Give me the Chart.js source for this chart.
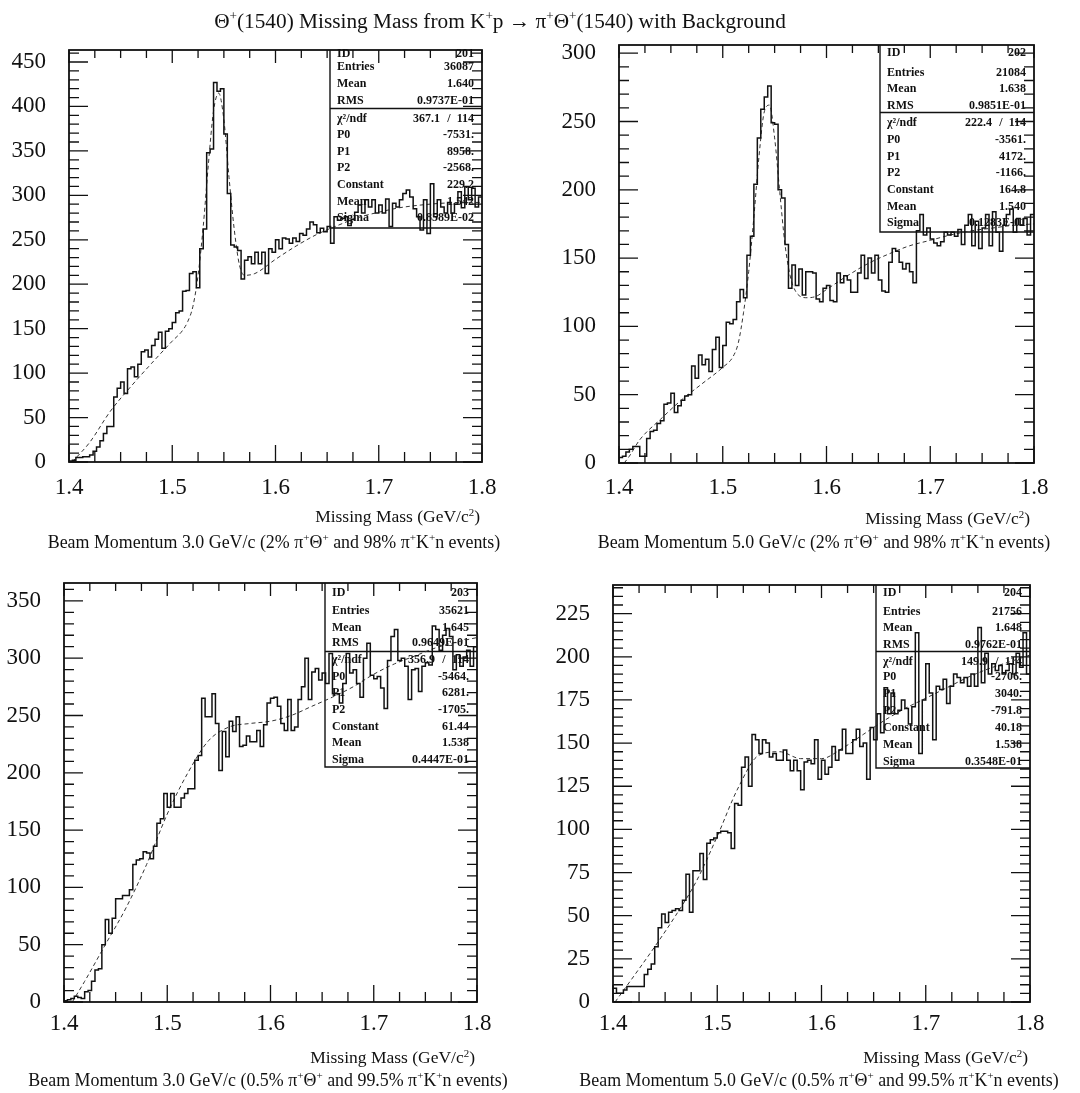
<!DOCTYPE html>
<html>
<head>
<meta charset="utf-8">
<title>Theta+(1540) missing mass</title>
<script src="https://cdn.jsdelivr.net/npm/chart.js@4.4.1/dist/chart.umd.min.js"></script>
<style>
  html, body { margin: 0; padding: 0; background: #fff; }
  body { position: relative; width: 1080px; height: 1093px; overflow: hidden;
         font-family: "Liberation Serif", "DejaVu Serif", serif; color: #111; }
  canvas { position: absolute; }
  .lbl { position: absolute; white-space: nowrap; z-index: 5; }
  .title { font-size: 21.3px; line-height: 25px; }
  .axis { font-size: 17.5px; line-height: 21px; }
  .caption { font-size: 17.9px; line-height: 21px; }
  .sup { font-size: 0.62em; position: relative; top: -0.6em; }
</style>
</head>
<body>

<div class="lbl title" style="left:200px;width:600px;top:9px;text-align:center">Θ<span class="sup">+</span>(1540) Missing Mass from K<span class="sup">+</span>p → π<span class="sup">+</span>Θ<span class="sup">+</span>(1540) with Background</div>

<div class="lbl axis" style="right:600px;top:506px;text-align:right">Missing Mass (GeV/c<span class="sup">2</span>)</div>
<div class="lbl caption" style="left:-26px;width:600px;top:532px;text-align:center">Beam Momentum 3.0 GeV/c (2% π<span class="sup">+</span>Θ<span class="sup">+</span> and 98% π<span class="sup">+</span>K<span class="sup">+</span>n events)</div>

<div class="lbl axis" style="right:50px;top:508px;text-align:right">Missing Mass (GeV/c<span class="sup">2</span>)</div>
<div class="lbl caption" style="left:524px;width:600px;top:532px;text-align:center">Beam Momentum 5.0 GeV/c (2% π<span class="sup">+</span>Θ<span class="sup">+</span> and 98% π<span class="sup">+</span>K<span class="sup">+</span>n events)</div>

<div class="lbl axis" style="right:605px;top:1047px;text-align:right">Missing Mass (GeV/c<span class="sup">2</span>)</div>
<div class="lbl caption" style="left:-32px;width:600px;top:1070px;text-align:center">Beam Momentum 3.0 GeV/c (0.5% π<span class="sup">+</span>Θ<span class="sup">+</span> and 99.5% π<span class="sup">+</span>K<span class="sup">+</span>n events)</div>

<div class="lbl axis" style="right:52px;top:1047px;text-align:right">Missing Mass (GeV/c<span class="sup">2</span>)</div>
<div class="lbl caption" style="left:519px;width:600px;top:1070px;text-align:center">Beam Momentum 5.0 GeV/c (0.5% π<span class="sup">+</span>Θ<span class="sup">+</span> and 99.5% π<span class="sup">+</span>K<span class="sup">+</span>n events)</div>

<script>
// histogram binning: 120 bins over 1.4 - 1.8 GeV/c^2
const MASS_LO = 1.4;
const MASS_HI = 1.8;
const N_BINS = 120;

// ---- ID 201 : 3.0 GeV/c, 2% signal ----
const counts201 = [
  1, 2, 5, 5, 6, 6, 8, 12, 17, 24,
  32, 40, 40, 73, 83, 90, 77, 105, 107, 96,
  110, 124, 126, 118, 131, 138, 146, 128, 147, 150,
  157, 168, 170, 192, 193, 212, 214, 196, 240, 262,
  348, 352, 427, 417, 420, 369, 302, 244, 242, 238,
  206, 227, 231, 223, 236, 223, 236, 212, 240, 236,
  250, 240, 252, 251, 246, 252, 248, 257, 255, 262,
  270, 267, 258, 263, 259, 265, 246, 276, 272, 274,
  276, 266, 273, 281, 289, 280, 295, 287, 295, 280,
  289, 280, 296, 265, 291, 287, 295, 302, 306, 298,
  285, 276, 261, 295, 257, 313, 276, 295, 287, 280,
  292, 280, 290, 304, 286, 310, 295, 308, 287, 298
];
const fit201X = [1.403, 1.42, 1.44, 1.46, 1.48, 1.50, 1.51, 1.515, 1.52, 1.525, 1.53, 1.535, 1.54, 1.545,
                 1.55, 1.555, 1.56, 1.565, 1.57, 1.58, 1.60, 1.62, 1.64, 1.66, 1.68, 1.70, 1.72, 1.74, 1.76, 1.78, 1.80];
const fit201Y = [0, 22, 57, 85, 111, 136, 148, 158, 175, 210, 265, 335, 395, 415,
                 385, 320, 262, 222, 210, 212, 228, 243, 256, 266, 275, 281, 286, 289, 291, 292, 292];
const stats201 = ['201', '36087', '1.640', '0.9737E-01', '', '-7531.', '8958.', '-2568.', '229.2', '1.542', '0.8589E-02'];
const chi201 = ['367.1', '114'];

// ---- ID 202 : 5.0 GeV/c, 2% signal ----
const counts202 = [
  4, 5, 8, 10, 12, 12, 5, 5, 18, 23,
  24, 29, 31, 43, 44, 51, 37, 42, 46, 49,
  50, 71, 62, 79, 72, 76, 67, 83, 92, 70,
  86, 103, 102, 105, 118, 127, 121, 152, 166, 204,
  238, 259, 268, 276, 249, 248, 200, 194, 160, 128,
  145, 130, 142, 123, 140, 140, 139, 120, 118, 128,
  130, 119, 118, 139, 132, 137, 134, 125, 125, 139,
  152, 135, 150, 139, 152, 134, 126, 125, 147, 157,
  155, 147, 142, 146, 140, 132, 170, 182, 167, 172,
  164, 161, 159, 162, 169, 167, 169, 166, 171, 160,
  174, 182, 159, 177, 157, 172, 182, 159, 184, 169,
  155, 174, 182, 186, 169, 179, 174, 179, 167, 182
];
const fit202X = [1.405, 1.41, 1.42, 1.44, 1.46, 1.48, 1.50, 1.51, 1.515, 1.52, 1.525, 1.53, 1.535, 1.54, 1.545,
                 1.55, 1.555, 1.56, 1.565, 1.57, 1.58, 1.59, 1.60, 1.62, 1.64, 1.66, 1.68, 1.70, 1.72, 1.74, 1.76, 1.78, 1.80];
const fit202Y = [0, 5, 17, 32, 46, 58, 70, 78, 88, 110, 140, 180, 225, 257, 262,
                 238, 198, 160, 137, 126, 121, 122, 127, 137, 146, 153, 159, 163, 167, 170, 172, 174, 175];
const stats202 = ['202', '21084', '1.638', '0.9851E-01', '', '-3561.', '4172.', '-1166.', '164.8', '1.540', '0.1283E-01'];
const chi202 = ['222.4', '114'];

// ---- ID 203 : 3.0 GeV/c, 0.5% signal ----
const counts203 = [
  1, 2, 3, 5, 4, 3, 9, 10, 18, 28,
  29, 50, 72, 60, 73, 90, 90, 93, 93, 98,
  120, 124, 125, 131, 130, 125, 136, 156, 160, 182,
  170, 182, 170, 170, 178, 182, 186, 186, 211, 215,
  265, 249, 249, 269, 243, 202, 236, 214, 245, 236,
  249, 223, 224, 232, 227, 227, 237, 223, 242, 261,
  265, 266, 258, 243, 237, 264, 237, 240, 264, 275,
  300, 264, 288, 291, 281, 287, 278, 304, 269, 269,
  261, 278, 304, 287, 290, 278, 266, 300, 313, 285,
  282, 284, 274, 256, 298, 319, 325, 298, 300, 293,
  264, 290, 291, 271, 293, 296, 294, 328, 325, 307,
  320, 326, 319, 290, 303, 293, 301, 307, 293, 310
];
const fit203X = [1.408, 1.42, 1.44, 1.46, 1.48, 1.50, 1.52, 1.54, 1.56, 1.58, 1.60,
                 1.62, 1.64, 1.66, 1.68, 1.70, 1.72, 1.74, 1.76, 1.78, 1.80];
const fit203Y = [0, 18, 50, 82, 120, 164, 200, 228, 240, 243, 245,
                 250, 258, 266, 275, 286, 295, 302, 309, 314, 318];
const stats203 = ['203', '35621', '1.645', '0.9649E-01', '', '-5464.', '6281.', '-1705.', '61.44', '1.538', '0.4447E-01'];
const chi203 = ['356.9', '114'];

// ---- ID 204 : 5.0 GeV/c, 0.5% signal ----
const counts204 = [
  8, 5, 5, 7, 9, 9, 9, 9, 9, 16,
  19, 22, 32, 43, 51, 46, 52, 53, 54, 53,
  59, 74, 52, 76, 76, 86, 71, 92, 94, 95,
  98, 99, 99, 98, 89, 115, 114, 136, 142, 125,
  155, 152, 144, 152, 150, 142, 144, 140, 140, 146,
  140, 134, 140, 134, 123, 139, 140, 138, 152, 129,
  140, 132, 136, 148, 140, 146, 158, 144, 144, 152,
  158, 148, 150, 129, 159, 152, 167, 156, 182, 167,
  179, 167, 169, 175, 170, 161, 171, 214, 144, 175,
  196, 179, 152, 183, 181, 187, 173, 183, 190, 188,
  185, 188, 183, 190, 183, 217, 185, 202, 190, 196,
  192, 195, 190, 192, 196, 190, 202, 194, 214, 190
];
const fit204X = [1.402, 1.42, 1.44, 1.46, 1.48, 1.50, 1.52, 1.54, 1.56, 1.58, 1.60,
                 1.62, 1.64, 1.66, 1.68, 1.70, 1.72, 1.74, 1.76, 1.78, 1.80];
const fit204Y = [0, 15, 32, 50, 70, 96, 124, 143, 145, 141, 141,
                 147, 155, 163, 170, 176, 182, 188, 193, 197, 201];
const stats204 = ['204', '21756', '1.648', '0.9762E-01', '', '-2706.', '3040.', '-791.8', '40.18', '1.538', '0.3548E-01'];
const chi204 = ['149.9', '114'];

const statLabels = ['ID', 'Entries', 'Mean', 'RMS', 'χ²/ndf', 'P0', 'P1', 'P2', 'Constant', 'Mean', 'Sigma'];

// layout of the four pads (page pixels)
const pads = [
  { counts: counts201, fitX: fit201X, fitY: fit201Y, stats: stats201, chi: chi201,
    cv: { x: 0, w: 515 }, area: { l: 69, r: 482, t: 50, b: 462 },
    yMax: 463.5, yStep: 50, yMinor: 10, xPad: 12,
    box: { l: 330, b: 228, sep: 108.5, rows: [54, 67, 84, 101, 119, 135, 152, 168, 185, 202, 218] } },
  { counts: counts202, fitX: fit202X, fitY: fit202Y, stats: stats202, chi: chi202,
    cv: { x: 545, w: 530 }, area: { l: 619, r: 1034, t: 45, b: 463 },
    yMax: 306, yStep: 50, yMinor: 10, xPad: 11,
    box: { l: 880, b: 232, sep: 112.5, rows: [53, 72.5, 89, 106, 123, 140, 157, 173, 190, 207, 223] } },
  { counts: counts203, fitX: fit203X, fitY: fit203Y, stats: stats203, chi: chi203,
    cv: { x: 0, w: 515 }, area: { l: 64, r: 477, t: 583, b: 1002 },
    yMax: 365.6, yStep: 50, yMinor: 10, xPad: 8,
    box: { l: 325, b: 767, sep: 651.5, rows: [593, 611, 628, 643, 660, 677, 693, 710, 727, 743, 760] } },
  { counts: counts204, fitX: fit204X, fitY: fit204Y, stats: stats204, chi: chi204,
    cv: { x: 545, w: 530 }, area: { l: 613, r: 1030, t: 585, b: 1002 },
    yMax: 241.6, yStep: 25, yMinor: 5, xPad: 8,
    box: { l: 876, b: 768, sep: 651.5, rows: [593, 612, 628, 645, 662, 677, 694, 711, 728, 745, 762] } }
];

const INK = '#111';
const SERIF = '"Liberation Serif", "DejaVu Serif", serif';
const TOP_MARGIN = 45;   // room above the frame for the y-axis label overhang
const X_AXIS_H = 46;     // room below the frame for the x tick labels

// bin low edges -> stepped outline, last bin closed at the upper edge
function histPoints(counts) {
  const w = (MASS_HI - MASS_LO) / N_BINS;
  const pts = counts.map((c, i) => ({ x: MASS_LO + i * w, y: c }));
  pts.push({ x: MASS_HI, y: counts[counts.length - 1] });
  return pts;
}

// PAW-style statistics box, drawn under the histogram
const statsBox = {
  id: 'statsBox',
  beforeDatasetsDraw(chart, args, o) {
    const { ctx, chartArea: a } = chart;
    ctx.save();
    ctx.fillStyle = '#fff';
    ctx.fillRect(o.left, a.top, a.right - o.left, o.bottom - a.top);
    ctx.strokeStyle = INK;
    ctx.lineWidth = 1.4;
    ctx.beginPath();
    ctx.moveTo(o.left, a.top);
    ctx.lineTo(o.left, o.bottom);
    ctx.lineTo(a.right, o.bottom);
    ctx.moveTo(o.left, o.sep);
    ctx.lineTo(a.right, o.sep);
    ctx.stroke();

    ctx.fillStyle = INK;
    ctx.font = 'bold 12px ' + SERIF;
    ctx.textBaseline = 'middle';
    const vr = a.right - 8;
    statLabels.forEach((lab, k) => {
      const y = o.rows[k];
      ctx.textAlign = 'left';
      ctx.fillText(lab, o.left + 7, y);
      ctx.textAlign = 'right';
      if (k === 4) {
        ctx.fillText(o.chi[0], vr - 34, y);
        ctx.textAlign = 'center';
        ctx.fillText('/', vr - 25, y);
        ctx.textAlign = 'right';
        ctx.fillText(o.chi[1], vr, y);
      } else {
        ctx.fillText(o.values[k], vr, y);
      }
    });
    ctx.restore();
  }
};

// frame with inward ticks on all four sides
const padFrame = {
  id: 'padFrame',
  afterDraw(chart, args, o) {
    const { ctx, chartArea: a, scales: { x, y } } = chart;
    ctx.save();
    ctx.strokeStyle = INK;
    ctx.lineWidth = 1.8;
    ctx.strokeRect(a.left, a.top, a.right - a.left, a.bottom - a.top);

    ctx.lineWidth = 1.3;
    ctx.beginPath();
    const nx = Math.round((x.max - x.min) / 0.025);
    for (let k = 0; k <= nx; k++) {
      const px = x.getPixelForValue(x.min + k * 0.025);
      const major = k % 4 === 0;
      ctx.moveTo(px, a.bottom);
      ctx.lineTo(px, a.bottom - (major ? 17 : 10));
      ctx.moveTo(px, a.top);
      ctx.lineTo(px, a.top + (major ? 13 : 8));
    }
    const per = Math.round(o.yStep / o.yMinor);
    for (let k = 0; k * o.yMinor <= y.max; k++) {
      const py = y.getPixelForValue(k * o.yMinor);
      const len = k % per === 0 ? 19 : 10;
      ctx.moveTo(a.left, py);
      ctx.lineTo(a.left + len, py);
      ctx.moveTo(a.right, py);
      ctx.lineTo(a.right - len, py);
    }
    ctx.stroke();
    ctx.restore();
  }
};

pads.forEach(p => {
  const cvTop = p.area.t - TOP_MARGIN;
  const cvH = p.area.b + X_AXIS_H - cvTop;
  const cv = document.createElement('canvas');
  cv.width = p.cv.w;
  cv.height = cvH;
  cv.style.left = p.cv.x + 'px';
  cv.style.top = cvTop + 'px';
  document.body.appendChild(cv);

  const yAxisW = p.area.l - p.cv.x;
  const tickFont = { family: SERIF, size: 23 };

  new Chart(cv, {
    type: 'line',
    data: {
      datasets: [
        {
          data: histPoints(p.counts),
          stepped: true,
          borderColor: INK,
          borderWidth: 1.5,
          pointRadius: 0,
          fill: false,
          order: 1
        },
        {
          data: p.fitX.map((m, i) => ({ x: m, y: p.fitY[i] })),
          borderColor: '#333',
          borderWidth: 1,
          borderDash: [4, 3],
          pointRadius: 0,
          cubicInterpolationMode: 'monotone',
          fill: false,
          order: 2
        }
      ]
    },
    options: {
      responsive: false,
      animation: false,
      events: [],
      layout: { padding: { left: 0, top: TOP_MARGIN, right: p.cv.x + p.cv.w - p.area.r, bottom: 0 } },
      plugins: {
        legend: { display: false },
        tooltip: { enabled: false },
        statsBox: {
          left: p.box.l - p.cv.x,
          bottom: p.box.b - cvTop,
          sep: p.box.sep - cvTop,
          rows: p.box.rows.map(r => r - cvTop),
          values: p.stats,
          chi: p.chi
        },
        padFrame: { yStep: p.yStep, yMinor: p.yMinor }
      },
      scales: {
        x: {
          type: 'linear',
          min: MASS_LO,
          max: MASS_HI,
          grid: { display: false, drawTicks: false },
          border: { display: false },
          ticks: {
            stepSize: 0.1,
            padding: p.xPad,
            color: INK,
            font: tickFont,
            maxRotation: 0,
            autoSkip: false,
            callback: v => v.toFixed(1)
          },
          afterFit: s => { s.height = X_AXIS_H; }
        },
        y: {
          min: 0,
          max: p.yMax,
          grid: { display: false, drawTicks: false },
          border: { display: false },
          ticks: {
            stepSize: p.yStep,
            includeBounds: false,
            padding: 23,
            color: INK,
            font: tickFont,
            callback: v => String(Math.round(v))
          },
          afterFit: s => { s.width = yAxisW; }
        }
      }
    },
    plugins: [statsBox, padFrame]
  });
});
</script>
</body>
</html>
